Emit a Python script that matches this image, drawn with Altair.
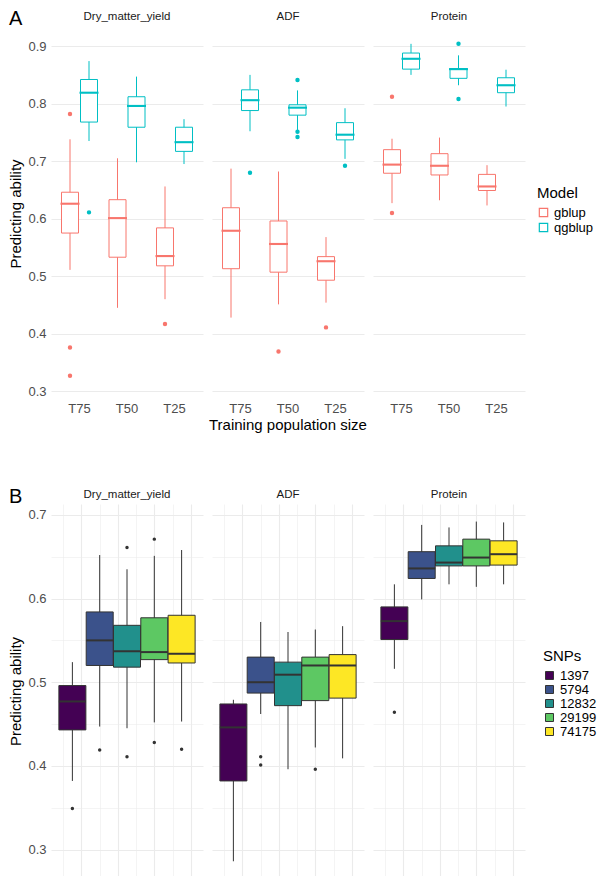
import altair as alt
import pandas as pd

traits = ["Dry_matter_yield", "ADF", "Protein"]
sizes = ["T75", "T50", "T25"]
models = ["gblup", "qgblup"]
snps = ["1397", "5794", "12832", "29199", "74175"]

# ---- Panel A: box statistics (trait, size, model) ----
a_trait = [t for t in traits for _ in range(6)]
a_size = [s for _ in traits for s in sizes for _m in models]
a_model = [m for _ in traits for _s in sizes for m in models]
a_lo = [0.511, 0.735, 0.445, 0.698, 0.460, 0.695,
        0.428, 0.752, 0.451, 0.753, 0.454, 0.704,
        0.627, 0.850, 0.632, 0.832, 0.623, 0.795]
a_q1 = [0.575, 0.768, 0.533, 0.759, 0.518, 0.717,
        0.513, 0.788, 0.507, 0.780, 0.493, 0.737,
        0.679, 0.860, 0.676, 0.844, 0.649, 0.819]
a_med = [0.626, 0.819, 0.601, 0.796, 0.535, 0.733,
         0.579, 0.806, 0.556, 0.793, 0.526, 0.746,
         0.694, 0.878, 0.692, 0.860, 0.656, 0.832]
a_q3 = [0.646, 0.842, 0.633, 0.812, 0.584, 0.759,
        0.619, 0.824, 0.596, 0.798, 0.534, 0.767,
        0.720, 0.888, 0.713, 0.861, 0.677, 0.845]
a_hi = [0.738, 0.874, 0.705, 0.847, 0.656, 0.773,
        0.687, 0.850, 0.682, 0.823, 0.568, 0.792,
        0.739, 0.904, 0.741, 0.884, 0.693, 0.859]

a_out_trait = ["Dry_matter_yield"] * 5 + ["ADF"] * 7 + ["Protein"] * 4
a_out_size = ["T75", "T75", "T75", "T75", "T25",
              "T75", "T50", "T50", "T50", "T25", "T50", "T25",
              "T75", "T75", "T50", "T50"]
a_out_model = ["gblup", "gblup", "gblup", "qgblup", "gblup",
               "qgblup", "qgblup", "qgblup", "qgblup", "qgblup", "gblup", "gblup",
               "gblup", "gblup", "qgblup", "qgblup"]
a_out_val = [0.782, 0.376, 0.327, 0.611, 0.417,
             0.680, 0.841, 0.751, 0.742, 0.692, 0.369, 0.411,
             0.812, 0.610, 0.904, 0.808]

# ---- Panel B: box statistics (trait, SNPs) ----
b_trait = [t for t in traits for _ in snps]
b_snp = [s for _ in traits for s in snps]
b_lo = [0.382, 0.447, 0.445, 0.452, 0.453,
        0.286, 0.462, 0.396, 0.422, 0.409,
        0.516, 0.599, 0.617, 0.614, 0.617]
b_q1 = [0.443, 0.520, 0.518, 0.527, 0.523,
        0.382, 0.487, 0.472, 0.478, 0.481,
        0.551, 0.624, 0.639, 0.639, 0.640]
b_med = [0.477, 0.550, 0.537, 0.536, 0.534,
         0.446, 0.500, 0.509, 0.520, 0.520,
         0.573, 0.636, 0.643, 0.649, 0.653]
b_q3 = [0.496, 0.584, 0.568, 0.577, 0.580,
        0.474, 0.530, 0.524, 0.530, 0.533,
        0.590, 0.656, 0.663, 0.671, 0.669]
b_hi = [0.524, 0.652, 0.635, 0.651, 0.658,
        0.479, 0.572, 0.560, 0.563, 0.567,
        0.617, 0.688, 0.685, 0.692, 0.691]

b_out_trait = ["Dry_matter_yield"] * 7 + ["ADF"] * 3 + ["Protein"]
b_out_snp = ["1397", "5794", "12832", "12832", "29199", "29199", "74175",
             "5794", "5794", "29199", "1397"]
b_out_val = [0.349, 0.419, 0.661, 0.411, 0.671, 0.428, 0.420,
             0.411, 0.401, 0.396, 0.464]

df_a = pd.concat([
    pd.DataFrame(dict(kind="box", trait=a_trait, size=a_size, model=a_model,
                      lo=a_lo, q1=a_q1, med=a_med, q3=a_q3, hi=a_hi)),
    pd.DataFrame(dict(kind="out", trait=a_out_trait, size=a_out_size,
                      model=a_out_model, val=a_out_val)),
], ignore_index=True)

df_b = pd.concat([
    pd.DataFrame(dict(kind="box", trait=b_trait, snp=b_snp,
                      lo=b_lo, q1=b_q1, med=b_med, q3=b_q3, hi=b_hi)),
    pd.DataFrame(dict(kind="out", trait=b_out_trait, snp=b_out_snp, val=b_out_val)),
], ignore_index=True)

FONT = "Liberation Sans"
GRID = "#EBEBEB"
LAB = "#4d4d4d"
major_test = "abs(datum.value*10 - round(datum.value*10)) < 0.001"
grid_w = {"condition": {"test": major_test, "value": 1.1}, "value": 0.55}
lab_expr = "abs(datum.value*10 - round(datum.value*10)) < 0.001 ? format(datum.value, '.1f') : ''"


def y_axis(vals):
    return alt.Axis(title="Predicting ability", values=vals, labelExpr=lab_expr,
                    gridWidth=grid_w, labelFontSize=13, labelFont=FONT,
                    labelColor=LAB, labelPadding=5,
                    titleFont=FONT, titleFontSize=15, titleColor="#000000",
                    titleFontWeight="normal", titlePadding=4)


def strip_header():
    return alt.Header(title=None, labelFontSize=11.5, labelColor="#1a1a1a",
                      labelFont=FONT, labelPadding=4)


# ---------------- Panel A ----------------
ya = alt.Scale(domain=[0.283, 0.935], nice=False, zero=False)
ya_axis = y_axis([round(0.3 + 0.05 * i, 2) for i in range(13)])
col_a = alt.Scale(domain=models, range=["#F8766D", "#00BFC4"])
leg_a = alt.Legend(title="Model", orient="none", legendX=486, legendY=160,
                   symbolType="square", symbolSize=70, symbolFillColor="white",
                   symbolStrokeWidth=1.2, rowPadding=0)


def stroke_a():
    return alt.Stroke("model:N", scale=col_a, legend=leg_a)


base_a = alt.Chart().encode(
    x=alt.X("size:N", sort=sizes,
            scale=alt.Scale(paddingInner=0, paddingOuter=0.1),
            axis=alt.Axis(title=None, labelAngle=0, gridWidth=1.1, labelPadding=1,
                          labelFontSize=13, labelFont=FONT, labelColor=LAB)),
    xOffset=alt.XOffset("model:N", sort=models,
                        scale=alt.Scale(paddingInner=0, paddingOuter=0.25)),
    stroke=stroke_a(),
)
box_a = base_a.transform_filter("datum.kind == 'box'")

whisk_a = box_a.mark_rule(strokeWidth=1).encode(
    y=alt.Y("lo:Q", scale=ya, axis=ya_axis), y2="hi:Q")
rect_a = box_a.mark_bar(size=17, fill="white", strokeWidth=1).encode(
    y=alt.Y("q1:Q", scale=ya), y2="q3:Q")
med_a = box_a.mark_tick(size=17, thickness=0.1, filled=False, strokeWidth=2,
                        opacity=1).encode(y=alt.Y("med:Q", scale=ya))
out_a = base_a.transform_filter("datum.kind == 'out'").mark_point(
    shape="circle", size=5, filled=False, strokeWidth=2.2, opacity=1
).encode(y=alt.Y("val:Q", scale=ya))

facet_a = alt.layer(whisk_a, rect_a, med_a, out_a).properties(
    width=152, height=375
).facet(
    column=alt.Column("trait:N", sort=traits, header=strip_header()),
    data=df_a, spacing=9,
    title=alt.TitleParams("Training population size", orient="bottom", anchor="start",
                          frame="group", fontSize=15, fontWeight="normal", font=FONT,
                          color="#000000", offset=3, dx=158),
)
chart_a = alt.vconcat(facet_a).properties(
    title=alt.TitleParams("A", anchor="start", frame="bounds", fontSize=20,
                          fontWeight="normal", font=FONT, offset=-18),
)

# ---------------- Panel B ----------------
yb = alt.Scale(domain=[0.266, 0.713], nice=False, zero=False)
yb_axis = y_axis([round(0.3 + 0.05 * i, 2) for i in range(9)])
xb_test = "abs(datum.value*0.75 - round(datum.value*0.75)) < 0.001"
xb = alt.X("pos:Q", scale=alt.Scale(domain=[0.4, 5.6], nice=False, zero=False),
           axis=alt.Axis(title=None, labels=False,
                         values=[k * 2 / 3 for k in range(1, 9)],
                         gridWidth={"condition": {"test": xb_test, "value": 1.1}, "value": 0.55}))
col_b = alt.Scale(domain=snps, range=["#440154", "#3B528B", "#21908C", "#5DC863", "#FDE725"])

base_b = alt.Chart().transform_calculate(
    pos="indexof(['1397','5794','12832','29199','74175'], datum.snp) + 1"
).encode(x=xb)
box_b = base_b.transform_filter("datum.kind == 'box'")

whisk_b = box_b.mark_rule(strokeWidth=1, color="#333333").encode(
    y=alt.Y("lo:Q", scale=yb, axis=yb_axis), y2="hi:Q")
rect_b = box_b.mark_bar(size=27, stroke="#333333", strokeWidth=1).encode(
    y=alt.Y("q1:Q", scale=yb), y2="q3:Q",
    fill=alt.Fill("snp:N", scale=col_b, sort=snps,
                  legend=alt.Legend(title="SNPs", orient="none",
                                    legendX=492, legendY=145,
                                    symbolType="square", symbolStrokeColor="#333333",
                                    symbolSize=64, symbolStrokeWidth=1, rowPadding=-3)))
med_b = box_b.mark_tick(size=27, thickness=2, color="#333333", opacity=1,
                        orient="horizontal").encode(y=alt.Y("med:Q", scale=yb))
out_b = base_b.transform_filter("datum.kind == 'out'").mark_circle(
    size=12, color="#333333", opacity=1).encode(y=alt.Y("val:Q", scale=yb))

chart_b = alt.layer(whisk_b, rect_b, med_b, out_b).properties(
    width=152, height=374
).facet(
    column=alt.Column("trait:N", sort=traits, header=strip_header()),
    data=df_b, spacing=9,
    title=alt.TitleParams("B", anchor="start", frame="bounds", fontSize=20,
                          fontWeight="normal", font=FONT, offset=-18),
)

chart = alt.vconcat(chart_a, chart_b, spacing=53).resolve_scale(
    stroke="independent", fill="independent"
).properties(
    padding={"left": 0, "top": 0, "right": 0, "bottom": 0}
).configure_view(stroke=None).configure_axis(
    domain=False, ticks=False, gridColor=GRID,
    labelColor=LAB, labelFontSize=13, labelFont=FONT,
    titleFont=FONT, titleFontSize=15, titleColor="#000000", titleFontWeight="normal",
).configure_legend(
    titleFont=FONT, titleFontSize=15, titleFontWeight="normal", titleColor="#000000",
    labelFont=FONT, labelFontSize=13, labelColor="#000000",
)

chart.save("out.html", embed_options={"renderer": "svg", "actions": False})
